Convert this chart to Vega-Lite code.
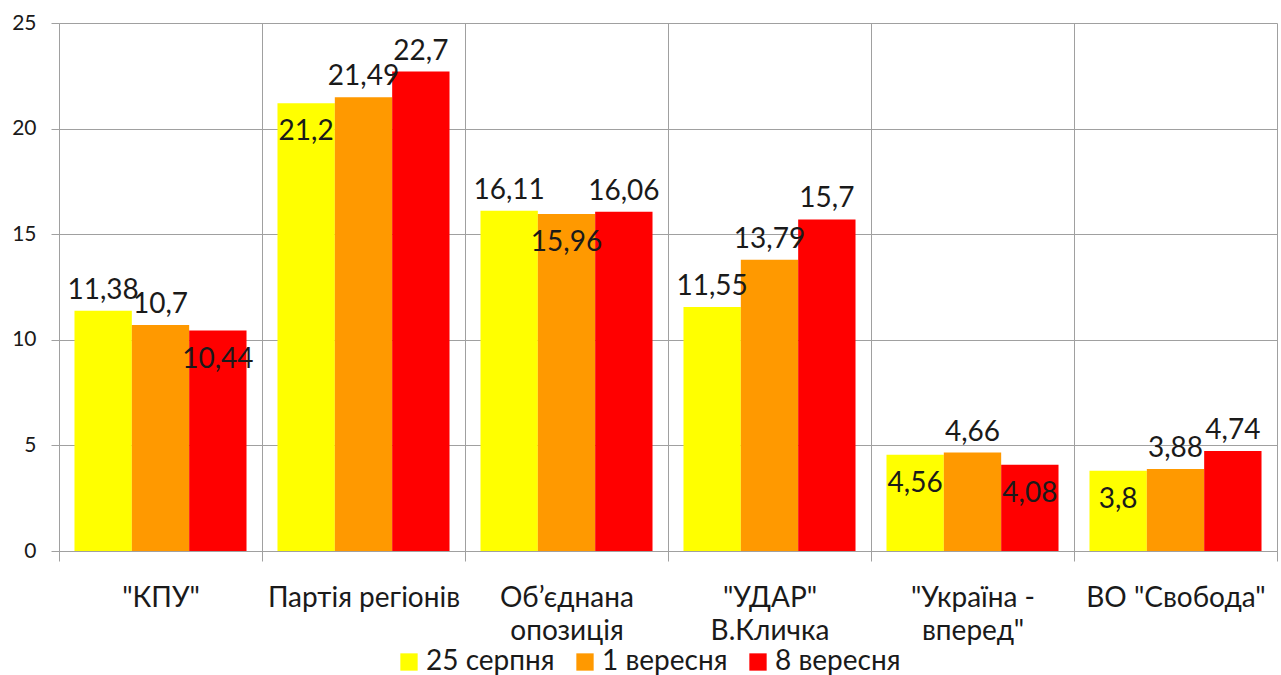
{
  "$schema": "https://vega.github.io/schema/vega-lite/v6.json",
  "autosize": "none",
  "width": 1218,
  "height": 528,
  "padding": {"left": 59, "top": 23, "right": 4, "bottom": 124},
  "background": "white",
  "config": {
    "font": "Lato",
    "locale": {"number": {"decimal": ",", "thousands": " ", "grouping": [3], "currency": ["", ""]}},
    "view": {"stroke": null},
    "axis": {"domainColor": "#a0a0a0", "tickColor": "#a0a0a0", "gridColor": "#a0a0a0", "labelColor": "#1a1a1a", "labelFont": "Lato"}
  },
  "data": {
    "values": [
      {"party": "\"КПУ\"", "date": "25 серпня", "value": 11.38, "place": "out"},
      {"party": "\"КПУ\"", "date": "1 вересня", "value": 10.7, "place": "out"},
      {"party": "\"КПУ\"", "date": "8 вересня", "value": 10.44, "place": "in"},
      {"party": "Партія регіонів", "date": "25 серпня", "value": 21.2, "place": "in"},
      {"party": "Партія регіонів", "date": "1 вересня", "value": 21.49, "place": "out"},
      {"party": "Партія регіонів", "date": "8 вересня", "value": 22.7, "place": "out"},
      {"party": "Об’єднана опозиція", "date": "25 серпня", "value": 16.11, "place": "out"},
      {"party": "Об’єднана опозиція", "date": "1 вересня", "value": 15.96, "place": "in"},
      {"party": "Об’єднана опозиція", "date": "8 вересня", "value": 16.06, "place": "out"},
      {"party": "\"УДАР\" В.Кличка", "date": "25 серпня", "value": 11.55, "place": "out"},
      {"party": "\"УДАР\" В.Кличка", "date": "1 вересня", "value": 13.79, "place": "out"},
      {"party": "\"УДАР\" В.Кличка", "date": "8 вересня", "value": 15.7, "place": "out"},
      {"party": "\"Україна - вперед\"", "date": "25 серпня", "value": 4.56, "place": "in"},
      {"party": "\"Україна - вперед\"", "date": "1 вересня", "value": 4.66, "place": "out"},
      {"party": "\"Україна - вперед\"", "date": "8 вересня", "value": 4.08, "place": "in"},
      {"party": "ВО \"Свобода\"", "date": "25 серпня", "value": 3.8, "place": "in"},
      {"party": "ВО \"Свобода\"", "date": "1 вересня", "value": 3.88, "place": "out"},
      {"party": "ВО \"Свобода\"", "date": "8 вересня", "value": 4.74, "place": "out"}
    ]
  },
  "encoding": {
    "x": {
      "field": "party", "type": "nominal", "sort": null,
      "scale": {"paddingInner": 0, "paddingOuter": 0},
      "axis": {
        "title": null, "labelAngle": 0, "tickBand": "extent", "grid": true,
        "tickSize": 10, "labelPadding": 23, "labelFontSize": 28, "labelLineHeight": 33, "labelLimit": 260,
        "labelBaseline": "top",
        "labelExpr": "datum.label == 'Об’єднана опозиція' ? ['Об’єднана', 'опозиція'] : datum.label == '\"УДАР\" В.Кличка' ? ['\"УДАР\"', 'В.Кличка'] : datum.label == '\"Україна - вперед\"' ? ['\"Україна -', 'вперед\"'] : datum.label"
      }
    },
    "xOffset": {
      "field": "date", "type": "nominal",
      "sort": ["25 серпня", "1 вересня", "8 вересня"],
      "scale": {"paddingInner": 0, "paddingOuter": 0.27}
    },
    "y": {
      "field": "value", "type": "quantitative",
      "scale": {"domain": [0, 25], "nice": false},
      "axis": {"title": null, "values": [0, 5, 10, 15, 20, 25], "format": "d", "tickSize": 8, "labelPadding": 15, "labelFontSize": 21, "grid": true}
    }
  },
  "layer": [
    {
      "mark": {"type": "bar"},
      "encoding": {
        "color": {
          "field": "date", "type": "nominal",
          "sort": ["25 серпня", "1 вересня", "8 вересня"],
          "scale": {"domain": ["25 серпня", "1 вересня", "8 вересня"], "range": ["#ffff00", "#ff9900", "#ff0000"]},
          "legend": {
            "title": null, "orient": "none", "direction": "horizontal",
            "legendX": 336, "legendY": 625,
            "symbolType": "square", "symbolSize": 300, "symbolStrokeWidth": 0,
            "labelFontSize": 28, "labelColor": "#1a1a1a", "labelOffset": 3, "columnPadding": 16, "labelLimit": 300
          }
        }
      }
    },
    {
      "transform": [{"filter": "datum.place == 'out'"}],
      "mark": {"type": "text", "baseline": "alphabetic", "dy": -12, "fontSize": 28, "color": "#1a1a1a"},
      "encoding": {"text": {"field": "value", "type": "quantitative", "format": ".2~f"}}
    },
    {
      "transform": [{"filter": "datum.place == 'in'"}],
      "mark": {"type": "text", "baseline": "alphabetic", "dy": 37, "fontSize": 28, "color": "#1a1a1a"},
      "encoding": {"text": {"field": "value", "type": "quantitative", "format": ".2~f"}}
    }
  ]
}
